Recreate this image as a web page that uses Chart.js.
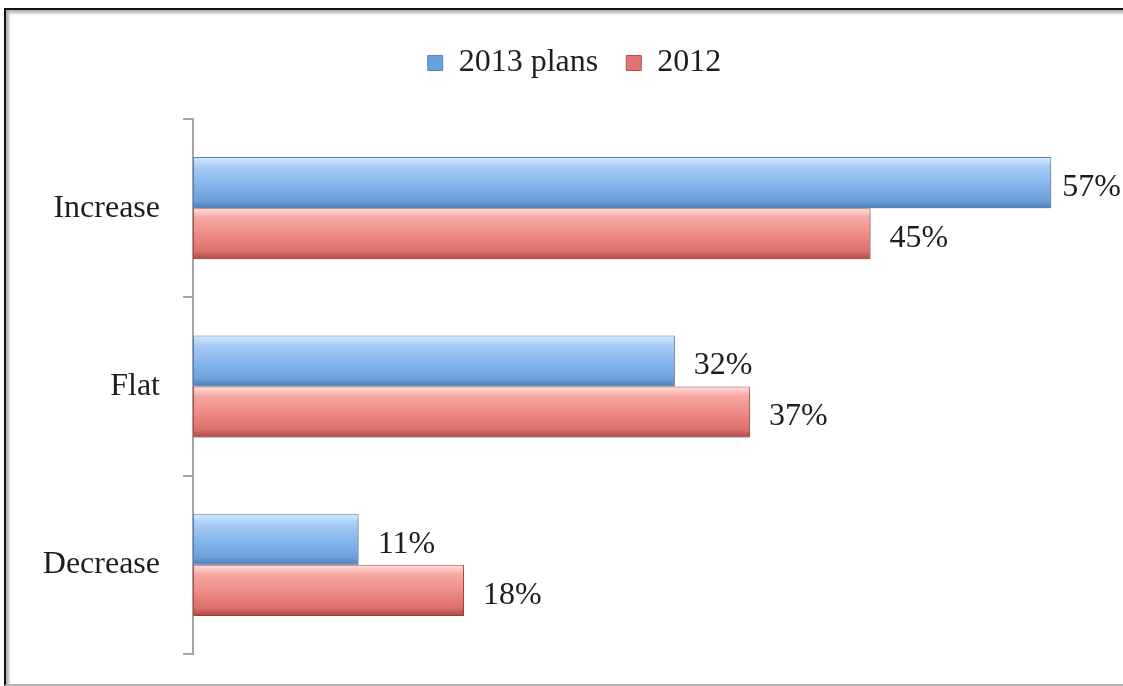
<!DOCTYPE html>
<html lang="en">
<head>
  <meta charset="UTF-8" />
  <title>2013 plans vs 2012</title>
  <script src="https://cdn.jsdelivr.net/npm/chart.js"></script>
  <style>
    body, html {
      margin: 0;
      width: 1123px;
      height: 686px;
      overflow: hidden;
      background: #fff;
    }
    #frame {
      position: absolute;
      left: 4px;
      top: 8px;
      width: 1140px;
      height: 674px;
      border-left: 2px solid #111;
      border-top: 2px solid #111;
      border-bottom: 2px solid #b5b5b5;
      box-shadow: inset 3px 3px 3px rgba(0, 0, 0, 0.3);
    }
    #wrap {
      position: absolute;
      left: 0;
      top: 0;
      width: 1123px;
      height: 686px;
    }
  </style>
</head>
<body>
  <div id="frame"></div>
  <div id="wrap"><canvas id="chart"></canvas></div>

  <script>
    const categories = ['Increase', 'Flat', 'Decrease'];
    const seriesNames = ['2013 plans', '2012'];
    const plans2013 = [57, 32, 11];
    const actual2012 = [45, 37, 18];

    const FONT = '"Liberation Serif", "Times New Roman", serif';
    const catPct = 0.573;
    const padLeft = 36;

    // bevel-ish vertical gradient for each bar
    const stops = [
      ['#d8ebff', '#a9cdf7', '#88b7ee', '#6d9fdd', '#4c7dbb'],
      ['#ffe1df', '#f7a8a3', '#ef8c86', '#dc6e69', '#ad4844']
    ];
    const legendColors = ['#6a9fdc', '#e3736e'];
    const borderColors = ['#5b86bc', '#b0504c'];

    function barFill(ctx) {
      const chart = ctx.chart;
      const y = chart.scales.y;
      if (!y || !chart.chartArea) return stops[ctx.datasetIndex][2];
      const band = (y.bottom - y.top) / categories.length * catPct;
      const center = y.getPixelForValue(ctx.dataIndex);
      const top = ctx.datasetIndex === 0 ? center - band / 2 : center;
      const g = chart.ctx.createLinearGradient(0, top, 0, top + band / 2);
      const s = stops[ctx.datasetIndex];
      g.addColorStop(0, s[0]);
      g.addColorStop(0.18, s[1]);
      g.addColorStop(0.5, s[2]);
      g.addColorStop(0.85, s[3]);
      g.addColorStop(1, s[4]);
      return g;
    }

    const shadowPlugin = {
      id: 'barShadow',
      beforeDatasetsDraw(chart) {
        const c = chart.ctx;
        c.save();
        c.shadowColor = 'rgba(0,0,0,0.28)';
        c.shadowBlur = 5;
        c.shadowOffsetX = 1;
        c.shadowOffsetY = 3;
      },
      afterDatasetsDraw(chart) {
        chart.ctx.restore();
      }
    };

    const labelPlugin = {
      id: 'valueLabels',
      afterDatasetsDraw(chart) {
        const c = chart.ctx;
        c.save();
        c.font = '32px ' + FONT;
        c.fillStyle = '#1e1e1e';
        c.textAlign = 'left';
        c.textBaseline = 'middle';
        chart.data.datasets.forEach((ds, i) => {
          chart.getDatasetMeta(i).data.forEach((bar, j) => {
            const txt = ds.data[j] + '%';
            const w = c.measureText(txt).width;
            let x = bar.x + 19;
            if (x + w > chart.width - 2) x = chart.width - 2 - w;
            c.fillText(txt, x, bar.y + 5);
          });
        });
        c.restore();
      }
    };

    const legendFit = {
      id: 'legendFit',
      beforeInit(chart) {
        const fit = chart.legend.fit;
        chart.legend.fit = function () {
          fit.bind(chart.legend)();
          this.height = 100;
        };
      }
    };

    new Chart(document.getElementById('chart'), {
      type: 'bar',
      data: {
        labels: categories,
        datasets: [
          { label: seriesNames[0], data: plans2013, backgroundColor: barFill, borderColor: borderColors[0] },
          { label: seriesNames[1], data: actual2012, backgroundColor: barFill, borderColor: borderColors[1] }
        ]
      },
      options: {
        indexAxis: 'y',
        responsive: true,
        maintainAspectRatio: false,
        animation: false,
        layout: { padding: { top: 19, right: 10, bottom: 32, left: padLeft } },
        datasets: {
          bar: {
            categoryPercentage: catPct,
            barPercentage: 1,
            borderWidth: 1,
            borderSkipped: false
          }
        },
        scales: {
          x: { display: false, min: 0, max: 61.1 },
          y: {
            afterFit(scale) {
              scale.width = 193 - padLeft;
              // big tick font would otherwise push the plot up from the bottom
              scale.paddingTop = 0;
              scale.paddingBottom = 0;
            },
            grid: {
              drawOnChartArea: false,
              tickLength: 10,
              color: '#a6a6a6',
              lineWidth: 2
            },
            border: { color: '#a6a6a6', width: 2 },
            ticks: {
              padding: 23,
              color: '#1e1e1e',
              font: { family: FONT, size: 32 }
            }
          }
        },
        plugins: {
          tooltip: { enabled: false },
          legend: {
            position: 'top',
            labels: {
              boxWidth: 15,
              boxHeight: 15,
              padding: 28,
              color: '#1e1e1e',
              font: { family: FONT, size: 32 },
              generateLabels(chart) {
                return chart.data.datasets.map((ds, i) => ({
                  text: ds.label,
                  fillStyle: legendColors[i],
                  strokeStyle: borderColors[i],
                  lineWidth: 1,
                  datasetIndex: i,
                  fontColor: '#1e1e1e'
                }));
              }
            }
          }
        }
      },
      plugins: [legendFit, shadowPlugin, labelPlugin]
    });
  </script>
</body>
</html>
